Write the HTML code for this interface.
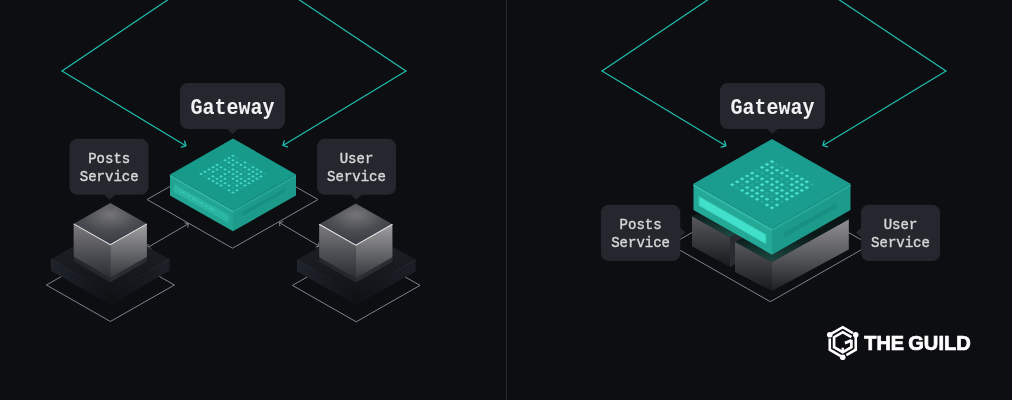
<!DOCTYPE html>
<html><head><meta charset="utf-8"><style>
html,body{margin:0;padding:0;background:#0d0e12;width:1012px;height:400px;overflow:hidden}
svg{display:block;will-change:transform}
</style></head><body>
<svg width="1012" height="400" viewBox="0 0 1012 400">
<defs>
 <linearGradient id="cubeL" x1="0" y1="0" x2="0" y2="1">
  <stop offset="0" stop-color="#7c7c7e"/><stop offset="0.55" stop-color="#4e4f54"/><stop offset="1" stop-color="#2b2d32"/>
 </linearGradient>
 <linearGradient id="cubeR" x1="0" y1="0" x2="0" y2="1">
  <stop offset="0" stop-color="#a0a0a1"/><stop offset="0.55" stop-color="#656669"/><stop offset="1" stop-color="#34363b"/>
 </linearGradient>
 <radialGradient id="cubeT" cx="0.5" cy="0.28" r="0.7">
  <stop offset="0" stop-color="#767678"/><stop offset="0.55" stop-color="#4a4c51"/><stop offset="1" stop-color="#383b44"/>
 </radialGradient>
 <linearGradient id="rim" x1="0" y1="0" x2="1" y2="0">
  <stop offset="0" stop-color="#272b33"/><stop offset="0.5" stop-color="#121418"/><stop offset="1" stop-color="#272b33"/>
 </linearGradient>
 <linearGradient id="platL" x1="0" y1="0" x2="1" y2="0">
  <stop offset="0" stop-color="#1f232b"/><stop offset="1" stop-color="#0f1115"/>
 </linearGradient>
 <linearGradient id="platR" x1="1" y1="0" x2="0" y2="0">
  <stop offset="0" stop-color="#1c1f26"/><stop offset="1" stop-color="#0f1115"/>
 </linearGradient>
 <linearGradient id="platT" x1="0" y1="0" x2="0" y2="1">
  <stop offset="0" stop-color="#1d2027"/><stop offset="0.5" stop-color="#1a1c22"/><stop offset="1" stop-color="#111317"/>
 </linearGradient>
 <linearGradient id="boxL" x1="0" y1="0" x2="0" y2="1">
  <stop offset="0" stop-color="#58595d"/><stop offset="0.5" stop-color="#38393d"/><stop offset="1" stop-color="#18191d"/>
 </linearGradient>
 <linearGradient id="boxR" x1="0" y1="0" x2="0" y2="1">
  <stop offset="0" stop-color="#909092"/><stop offset="0.5" stop-color="#5a5b5e"/><stop offset="1" stop-color="#1d1e22"/>
 </linearGradient>
 <linearGradient id="boxTop" x1="0" y1="0" x2="0" y2="1">
  <stop offset="0" stop-color="#081010"/><stop offset="0.6" stop-color="#0c1b1a"/><stop offset="1" stop-color="#1d4a45"/>
 </linearGradient>
 <linearGradient id="gwL" x1="0" y1="0" x2="1" y2="0">
  <stop offset="0" stop-color="#24a895"/><stop offset="1" stop-color="#1f9f8e"/>
 </linearGradient>
 <linearGradient id="gwR" x1="0" y1="0" x2="1" y2="0">
  <stop offset="0" stop-color="#1b9988"/><stop offset="1" stop-color="#1e9e8d"/>
 </linearGradient>
</defs>
<rect width="1012" height="400" fill="#0d0e12"/>
<rect x="506" y="0" width="1" height="400" fill="#27282d"/>
<polyline points="170.50,-2.00 62.00,71.00 185.75,145.75" fill="none" stroke="#1fbfb1" stroke-width="1.2"/>
<polyline points="184.60,141.20 185.90,145.80 181.20,147.20" fill="none" stroke="#1fbfb1" stroke-width="1.3" stroke-linecap="round" stroke-linejoin="round"/>
<polyline points="296.50,-2.00 406.00,71.00 283.00,145.40" fill="none" stroke="#1fbfb1" stroke-width="1.2"/>
<polyline points="284.20,140.90 282.90,145.50 287.60,146.90" fill="none" stroke="#1fbfb1" stroke-width="1.3" stroke-linecap="round" stroke-linejoin="round"/>
<polygon points="110.40,248.52 174.40,285.00 110.40,321.48 46.40,285.00" fill="none" stroke="#80828a" stroke-width="1"/>
<polygon points="356.20,249.03 420.00,285.40 356.20,321.77 292.40,285.40" fill="none" stroke="#80828a" stroke-width="1"/>
<polygon points="232.50,150.77 318.00,199.50 232.50,248.23 147.00,199.50" fill="none" stroke="#80828a" stroke-width="1"/>
<line x1="147.5" y1="247.6" x2="188.3" y2="223.8" stroke="#80828a" stroke-width="1"/>
<polyline points="184.60,222.90 188.30,223.80 187.80,227.60" fill="none" stroke="#80828a" stroke-width="1"/>
<line x1="319.2" y1="246.1" x2="279.4" y2="222.6" stroke="#80828a" stroke-width="1"/>
<polyline points="148.30,243.90 147.60,247.50 151.20,248.50" fill="none" stroke="#80828a" stroke-width="1"/>
<polyline points="318.50,242.50 319.20,246.10 315.60,247.10" fill="none" stroke="#80828a" stroke-width="1"/>
<polyline points="283.10,221.70 279.40,222.60 279.90,226.40" fill="none" stroke="#80828a" stroke-width="1"/>
<polygon points="50.90,259.30 110.20,293.10 110.20,304.60 50.90,270.80" fill="url(#platL)"/>
<polygon points="110.20,293.10 169.50,259.30 169.50,270.80 110.20,304.60" fill="url(#platR)"/>
<polygon points="110.20,225.50 169.50,259.30 110.20,293.10 50.90,259.30" fill="url(#platT)"/>
<polyline points="50.90,259.30 110.20,293.10 169.50,259.30" fill="none" stroke="url(#rim)" stroke-width="1"/>
<polygon points="110.30,234.00 150.30,256.80 110.30,279.60 70.30,256.80" fill="#15171c"/>
<polygon points="73.70,223.86 110.30,244.72 110.30,282.22 73.70,261.36" fill="#24272e"/>
<polygon points="110.30,244.72 146.90,223.86 146.90,261.36 110.30,282.22" fill="#2a2d34"/>
<polygon points="73.70,223.86 110.30,244.72 110.30,277.72 73.70,256.86" fill="url(#cubeL)"/>
<polygon points="110.30,244.72 146.90,223.86 146.90,256.86 110.30,277.72" fill="url(#cubeR)"/>
<polygon points="110.30,203.00 146.90,223.86 110.30,244.72 73.70,223.86" fill="url(#cubeT)"/>
<polyline points="73.70,223.86 110.30,244.72 146.90,223.86" fill="none" stroke="#e6e6e6" stroke-width="1.1"/>
<polygon points="297.00,259.80 356.30,293.60 356.30,305.10 297.00,271.30" fill="url(#platL)"/>
<polygon points="356.30,293.60 415.60,259.80 415.60,271.30 356.30,305.10" fill="url(#platR)"/>
<polygon points="356.30,226.00 415.60,259.80 356.30,293.60 297.00,259.80" fill="url(#platT)"/>
<polyline points="297.00,259.80 356.30,293.60 415.60,259.80" fill="none" stroke="url(#rim)" stroke-width="1"/>
<polygon points="355.80,234.40 395.80,257.20 355.80,280.00 315.80,257.20" fill="#15171c"/>
<polygon points="319.20,224.26 355.80,245.12 355.80,282.62 319.20,261.76" fill="#24272e"/>
<polygon points="355.80,245.12 392.40,224.26 392.40,261.76 355.80,282.62" fill="#2a2d34"/>
<polygon points="319.20,224.26 355.80,245.12 355.80,278.12 319.20,257.26" fill="url(#cubeL)"/>
<polygon points="355.80,245.12 392.40,224.26 392.40,257.26 355.80,278.12" fill="url(#cubeR)"/>
<polygon points="355.80,203.40 392.40,224.26 355.80,245.12 319.20,224.26" fill="url(#cubeT)"/>
<polyline points="319.20,224.26 355.80,245.12 392.40,224.26" fill="none" stroke="#e6e6e6" stroke-width="1.1"/>
<g transform="translate(233,138.5) scale(1.0)">
<polygon points="-63.00,35.91 0.00,71.82 0.00,92.82 -63.00,56.91" fill="#21a491"/>
<polygon points="0.00,71.82 63.00,35.91 63.00,56.91 0.00,92.82" fill="#1c9b8a"/>
<polygon points="0.00,0.00 63.00,35.91 0.00,71.82 -63.00,35.91" fill="#189a8b"/>
<polyline points="-63.00,37.11 0.00,73.02" fill="none" stroke="#34bead" stroke-width="1.6" stroke-opacity="0.8"/>
<polyline points="0.00,73.02 63.00,37.11" fill="none" stroke="#2bb09f" stroke-width="1.6" stroke-opacity="0.7"/>
<polygon points="-59.00,45.50 -4.50,76.56 -4.50,84.56 -59.00,53.50" fill="#2ab6a3"/>
<polyline points="-51.60,53.20 -17.70,72.50" fill="none" stroke="#43d6c2" stroke-width="1.4" stroke-dasharray="5 2 3 2 6 2" stroke-opacity="0.6"/>
<polygon points="9.60,73.50 51.90,49.40 51.90,53.40 9.60,77.50" fill="#179083"/>
<g transform="translate(0,0)"><polygon points="0.00,15.92 1.95,17.20 0.00,18.47 -1.95,17.20" fill="#40d6c5" fill-opacity="1.0"/>
<polygon points="3.99,18.23 5.94,19.50 3.99,20.77 2.04,19.50" fill="#40d6c5" fill-opacity="0.22"/>
<polygon points="7.98,20.52 9.93,21.80 7.98,23.07 6.03,21.80" fill="#40d6c5" fill-opacity="0.22"/>
<polygon points="11.97,22.82 13.92,24.10 11.97,25.37 10.02,24.10" fill="#40d6c5" fill-opacity="1.0"/>
<polygon points="15.96,25.12 17.91,26.40 15.96,27.67 14.01,26.40" fill="#40d6c5" fill-opacity="0.22"/>
<polygon points="19.95,27.43 21.90,28.70 19.95,29.97 18.00,28.70" fill="#40d6c5" fill-opacity="1.0"/>
<polygon points="23.94,29.73 25.89,31.00 23.94,32.27 21.99,31.00" fill="#40d6c5" fill-opacity="1.0"/>
<polygon points="27.93,32.02 29.88,33.30 27.93,34.57 25.98,33.30" fill="#40d6c5" fill-opacity="1.0"/>
<polygon points="31.92,34.32 33.87,35.60 31.92,36.87 29.97,35.60" fill="#40d6c5" fill-opacity="0.22"/>
<polygon points="-3.99,18.23 -2.04,19.50 -3.99,20.77 -5.94,19.50" fill="#40d6c5" fill-opacity="1.0"/>
<polygon points="0.00,20.52 1.95,21.80 0.00,23.07 -1.95,21.80" fill="#40d6c5" fill-opacity="1.0"/>
<polygon points="3.99,22.82 5.94,24.10 3.99,25.37 2.04,24.10" fill="#40d6c5" fill-opacity="1.0"/>
<polygon points="7.98,25.12 9.93,26.40 7.98,27.67 6.03,26.40" fill="#40d6c5" fill-opacity="1.0"/>
<polygon points="11.97,27.43 13.92,28.70 11.97,29.97 10.02,28.70" fill="#40d6c5" fill-opacity="1.0"/>
<polygon points="15.96,29.73 17.91,31.00 15.96,32.27 14.01,31.00" fill="#40d6c5" fill-opacity="1.0"/>
<polygon points="19.95,32.02 21.90,33.30 19.95,34.57 18.00,33.30" fill="#40d6c5" fill-opacity="1.0"/>
<polygon points="23.94,34.32 25.89,35.60 23.94,36.87 21.99,35.60" fill="#40d6c5" fill-opacity="1.0"/>
<polygon points="27.93,36.62 29.88,37.90 27.93,39.17 25.98,37.90" fill="#40d6c5" fill-opacity="1.0"/>
<polygon points="-7.98,20.52 -6.03,21.80 -7.98,23.07 -9.93,21.80" fill="#40d6c5" fill-opacity="1.0"/>
<polygon points="-3.99,22.82 -2.04,24.10 -3.99,25.37 -5.94,24.10" fill="#40d6c5" fill-opacity="1.0"/>
<polygon points="0.00,25.12 1.95,26.40 0.00,27.67 -1.95,26.40" fill="#40d6c5" fill-opacity="1.0"/>
<polygon points="3.99,27.43 5.94,28.70 3.99,29.97 2.04,28.70" fill="#40d6c5" fill-opacity="0.22"/>
<polygon points="7.98,29.73 9.93,31.00 7.98,32.27 6.03,31.00" fill="#40d6c5" fill-opacity="0.22"/>
<polygon points="11.97,32.02 13.92,33.30 11.97,34.57 10.02,33.30" fill="#40d6c5" fill-opacity="0.22"/>
<polygon points="15.96,34.32 17.91,35.60 15.96,36.87 14.01,35.60" fill="#40d6c5" fill-opacity="1.0"/>
<polygon points="19.95,36.62 21.90,37.90 19.95,39.17 18.00,37.90" fill="#40d6c5" fill-opacity="1.0"/>
<polygon points="23.94,38.93 25.89,40.20 23.94,41.48 21.99,40.20" fill="#40d6c5" fill-opacity="1.0"/>
<polygon points="-11.97,22.82 -10.02,24.10 -11.97,25.37 -13.92,24.10" fill="#40d6c5" fill-opacity="0.22"/>
<polygon points="-7.98,25.12 -6.03,26.40 -7.98,27.67 -9.93,26.40" fill="#40d6c5" fill-opacity="0.22"/>
<polygon points="-3.99,27.43 -2.04,28.70 -3.99,29.97 -5.94,28.70" fill="#40d6c5" fill-opacity="0.22"/>
<polygon points="0.00,29.73 1.95,31.00 0.00,32.27 -1.95,31.00" fill="#40d6c5" fill-opacity="1.0"/>
<polygon points="3.99,32.02 5.94,33.30 3.99,34.57 2.04,33.30" fill="#40d6c5" fill-opacity="1.0"/>
<polygon points="7.98,34.32 9.93,35.60 7.98,36.87 6.03,35.60" fill="#40d6c5" fill-opacity="1.0"/>
<polygon points="11.97,36.62 13.92,37.90 11.97,39.17 10.02,37.90" fill="#40d6c5" fill-opacity="0.22"/>
<polygon points="15.96,38.93 17.91,40.20 15.96,41.48 14.01,40.20" fill="#40d6c5" fill-opacity="1.0"/>
<polygon points="19.95,41.23 21.90,42.50 19.95,43.77 18.00,42.50" fill="#40d6c5" fill-opacity="1.0"/>
<polygon points="-15.96,25.12 -14.01,26.40 -15.96,27.67 -17.91,26.40" fill="#40d6c5" fill-opacity="1.0"/>
<polygon points="-11.97,27.43 -10.02,28.70 -11.97,29.97 -13.92,28.70" fill="#40d6c5" fill-opacity="1.0"/>
<polygon points="-7.98,29.73 -6.03,31.00 -7.98,32.27 -9.93,31.00" fill="#40d6c5" fill-opacity="1.0"/>
<polygon points="-3.99,32.02 -2.04,33.30 -3.99,34.57 -5.94,33.30" fill="#40d6c5" fill-opacity="1.0"/>
<polygon points="0.00,34.32 1.95,35.60 0.00,36.87 -1.95,35.60" fill="#40d6c5" fill-opacity="1.0"/>
<polygon points="3.99,36.62 5.94,37.90 3.99,39.17 2.04,37.90" fill="#40d6c5" fill-opacity="1.0"/>
<polygon points="7.98,38.93 9.93,40.20 7.98,41.48 6.03,40.20" fill="#40d6c5" fill-opacity="1.0"/>
<polygon points="11.97,41.23 13.92,42.50 11.97,43.77 10.02,42.50" fill="#40d6c5" fill-opacity="1.0"/>
<polygon points="15.96,43.52 17.91,44.80 15.96,46.07 14.01,44.80" fill="#40d6c5" fill-opacity="1.0"/>
<polygon points="-19.95,27.43 -18.00,28.70 -19.95,29.97 -21.90,28.70" fill="#40d6c5" fill-opacity="1.0"/>
<polygon points="-15.96,29.73 -14.01,31.00 -15.96,32.27 -17.91,31.00" fill="#40d6c5" fill-opacity="1.0"/>
<polygon points="-11.97,32.02 -10.02,33.30 -11.97,34.57 -13.92,33.30" fill="#40d6c5" fill-opacity="0.22"/>
<polygon points="-7.98,34.32 -6.03,35.60 -7.98,36.87 -9.93,35.60" fill="#40d6c5" fill-opacity="1.0"/>
<polygon points="-3.99,36.62 -2.04,37.90 -3.99,39.17 -5.94,37.90" fill="#40d6c5" fill-opacity="0.22"/>
<polygon points="0.00,38.93 1.95,40.20 0.00,41.48 -1.95,40.20" fill="#40d6c5" fill-opacity="1.0"/>
<polygon points="3.99,41.23 5.94,42.50 3.99,43.77 2.04,42.50" fill="#40d6c5" fill-opacity="1.0"/>
<polygon points="7.98,43.52 9.93,44.80 7.98,46.07 6.03,44.80" fill="#40d6c5" fill-opacity="1.0"/>
<polygon points="11.97,45.82 13.92,47.10 11.97,48.37 10.02,47.10" fill="#40d6c5" fill-opacity="1.0"/>
<polygon points="-23.94,29.73 -21.99,31.00 -23.94,32.27 -25.89,31.00" fill="#40d6c5" fill-opacity="1.0"/>
<polygon points="-19.95,32.02 -18.00,33.30 -19.95,34.57 -21.90,33.30" fill="#40d6c5" fill-opacity="1.0"/>
<polygon points="-15.96,34.32 -14.01,35.60 -15.96,36.87 -17.91,35.60" fill="#40d6c5" fill-opacity="0.22"/>
<polygon points="-11.97,36.62 -10.02,37.90 -11.97,39.17 -13.92,37.90" fill="#40d6c5" fill-opacity="1.0"/>
<polygon points="-7.98,38.93 -6.03,40.20 -7.98,41.48 -9.93,40.20" fill="#40d6c5" fill-opacity="1.0"/>
<polygon points="-3.99,41.23 -2.04,42.50 -3.99,43.77 -5.94,42.50" fill="#40d6c5" fill-opacity="0.22"/>
<polygon points="0.00,43.52 1.95,44.80 0.00,46.07 -1.95,44.80" fill="#40d6c5" fill-opacity="0.22"/>
<polygon points="3.99,45.82 5.94,47.10 3.99,48.37 2.04,47.10" fill="#40d6c5" fill-opacity="1.0"/>
<polygon points="7.98,48.12 9.93,49.40 7.98,50.67 6.03,49.40" fill="#40d6c5" fill-opacity="0.22"/>
<polygon points="-27.93,32.02 -25.98,33.30 -27.93,34.57 -29.88,33.30" fill="#40d6c5" fill-opacity="1.0"/>
<polygon points="-23.94,34.32 -21.99,35.60 -23.94,36.87 -25.89,35.60" fill="#40d6c5" fill-opacity="0.22"/>
<polygon points="-19.95,36.62 -18.00,37.90 -19.95,39.17 -21.90,37.90" fill="#40d6c5" fill-opacity="1.0"/>
<polygon points="-15.96,38.93 -14.01,40.20 -15.96,41.48 -17.91,40.20" fill="#40d6c5" fill-opacity="1.0"/>
<polygon points="-11.97,41.23 -10.02,42.50 -11.97,43.77 -13.92,42.50" fill="#40d6c5" fill-opacity="1.0"/>
<polygon points="-7.98,43.52 -6.03,44.80 -7.98,46.07 -9.93,44.80" fill="#40d6c5" fill-opacity="1.0"/>
<polygon points="-3.99,45.82 -2.04,47.10 -3.99,48.37 -5.94,47.10" fill="#40d6c5" fill-opacity="1.0"/>
<polygon points="0.00,48.12 1.95,49.40 0.00,50.67 -1.95,49.40" fill="#40d6c5" fill-opacity="0.22"/>
<polygon points="3.99,50.43 5.94,51.70 3.99,52.98 2.04,51.70" fill="#40d6c5" fill-opacity="1.0"/>
<polygon points="-31.92,34.32 -29.97,35.60 -31.92,36.87 -33.87,35.60" fill="#40d6c5" fill-opacity="1.0"/>
<polygon points="-27.93,36.62 -25.98,37.90 -27.93,39.17 -29.88,37.90" fill="#40d6c5" fill-opacity="0.22"/>
<polygon points="-23.94,38.93 -21.99,40.20 -23.94,41.48 -25.89,40.20" fill="#40d6c5" fill-opacity="1.0"/>
<polygon points="-19.95,41.23 -18.00,42.50 -19.95,43.77 -21.90,42.50" fill="#40d6c5" fill-opacity="1.0"/>
<polygon points="-15.96,43.52 -14.01,44.80 -15.96,46.07 -17.91,44.80" fill="#40d6c5" fill-opacity="1.0"/>
<polygon points="-11.97,45.82 -10.02,47.10 -11.97,48.37 -13.92,47.10" fill="#40d6c5" fill-opacity="1.0"/>
<polygon points="-7.98,48.12 -6.03,49.40 -7.98,50.67 -9.93,49.40" fill="#40d6c5" fill-opacity="0.22"/>
<polygon points="-3.99,50.43 -2.04,51.70 -3.99,52.98 -5.94,51.70" fill="#40d6c5" fill-opacity="1.0"/>
<polygon points="0.00,52.73 1.95,54.00 0.00,55.27 -1.95,54.00" fill="#40d6c5" fill-opacity="1.0"/></g>
</g>
<rect x="180" y="83" width="105" height="46" rx="8" fill="#25272e"/>
<polygon points="226.50,128.50 238.50,128.50 232.50,134.00" fill="#25272e"/>
<rect x="69.5" y="138.8" width="79" height="56" rx="8" fill="#25272e"/>
<polygon points="103.70,194.30 115.70,194.30 109.70,199.80" fill="#25272e"/>
<rect x="317" y="138.8" width="79" height="56" rx="8" fill="#25272e"/>
<polygon points="350.20,194.30 362.20,194.30 356.20,199.80" fill="#25272e"/>
<polyline points="710.50,-2.00 602.00,71.00 725.75,145.75" fill="none" stroke="#1fbfb1" stroke-width="1.2"/>
<polyline points="724.60,141.20 725.90,145.80 721.20,147.20" fill="none" stroke="#1fbfb1" stroke-width="1.3" stroke-linecap="round" stroke-linejoin="round"/>
<polyline points="836.50,-2.00 946.00,71.00 823.00,145.40" fill="none" stroke="#1fbfb1" stroke-width="1.2"/>
<polyline points="824.20,140.90 822.90,145.50 827.60,146.90" fill="none" stroke="#1fbfb1" stroke-width="1.3" stroke-linecap="round" stroke-linejoin="round"/>
<polygon points="770.30,187.91 870.10,244.80 770.30,301.69 670.50,244.80" fill="none" stroke="#80828a" stroke-width="1"/>
<polygon points="692.00,216.25 730.00,237.20 730.00,267.00 692.00,246.25" fill="url(#boxL)"/>
<polygon points="730.00,237.20 760.00,220.70 760.00,250.50 730.00,267.00" fill="#2a2b30"/>
<polygon points="692.00,216.25 730.00,237.20 800.00,198.00 762.00,177.00" fill="url(#boxTop)"/>
<polygon points="735.00,242.00 772.00,262.00 772.00,291.00 735.00,272.00" fill="url(#boxL)"/>
<polygon points="772.00,262.00 848.80,219.30 848.80,249.50 772.00,291.00" fill="url(#boxR)"/>
<polygon points="735.00,242.00 772.00,262.00 848.80,219.30 811.80,199.30" fill="url(#boxTop)"/>
<g transform="translate(772,139) scale(1.246)">
<polygon points="-63.00,35.91 0.00,71.82 0.00,92.82 -63.00,56.91" fill="#25a997"/>
<polygon points="0.00,71.82 63.00,35.91 63.00,56.91 0.00,92.82" fill="#1c9b8a"/>
<polygon points="0.00,0.00 63.00,35.91 0.00,71.82 -63.00,35.91" fill="#1a9d8e"/>
<polyline points="-63.00,37.11 0.00,73.02" fill="none" stroke="#34bead" stroke-width="1.6" stroke-opacity="0.8"/>
<polyline points="0.00,73.02 63.00,37.11" fill="none" stroke="#2bb09f" stroke-width="1.6" stroke-opacity="0.7"/>
<polygon points="-59.00,45.50 -4.50,76.56 -4.50,84.56 -59.00,53.50" fill="#33c6b2"/>
<polygon points="-58.10,46.70 -5.40,76.77 -5.40,83.56 -58.10,53.20" fill="#42e0cb"/>
<polygon points="9.60,75.30 51.90,51.20 51.90,55.20 9.60,79.30" fill="#179083"/>
<g transform="translate(0,0)"><polygon points="0.00,16.83 1.95,18.10 0.00,19.38 -1.95,18.10" fill="#46ddcc" fill-opacity="1.0"/>
<polygon points="3.99,19.15 5.94,20.42 3.99,21.70 2.04,20.42" fill="#46ddcc" fill-opacity="0.22"/>
<polygon points="7.98,21.47 9.93,22.74 7.98,24.02 6.03,22.74" fill="#46ddcc" fill-opacity="0.22"/>
<polygon points="11.97,23.79 13.92,25.06 11.97,26.34 10.02,25.06" fill="#46ddcc" fill-opacity="1.0"/>
<polygon points="15.96,26.11 17.91,27.38 15.96,28.66 14.01,27.38" fill="#46ddcc" fill-opacity="0.22"/>
<polygon points="19.95,28.43 21.90,29.70 19.95,30.98 18.00,29.70" fill="#46ddcc" fill-opacity="1.0"/>
<polygon points="23.94,30.74 25.89,32.02 23.94,33.29 21.99,32.02" fill="#46ddcc" fill-opacity="1.0"/>
<polygon points="27.93,33.07 29.88,34.34 27.93,35.62 25.98,34.34" fill="#46ddcc" fill-opacity="1.0"/>
<polygon points="31.92,35.38 33.87,36.66 31.92,37.93 29.97,36.66" fill="#46ddcc" fill-opacity="0.22"/>
<polygon points="-3.99,19.15 -2.04,20.42 -3.99,21.70 -5.94,20.42" fill="#46ddcc" fill-opacity="1.0"/>
<polygon points="0.00,21.47 1.95,22.74 0.00,24.02 -1.95,22.74" fill="#46ddcc" fill-opacity="1.0"/>
<polygon points="3.99,23.79 5.94,25.06 3.99,26.34 2.04,25.06" fill="#46ddcc" fill-opacity="1.0"/>
<polygon points="7.98,26.11 9.93,27.38 7.98,28.66 6.03,27.38" fill="#46ddcc" fill-opacity="1.0"/>
<polygon points="11.97,28.43 13.92,29.70 11.97,30.98 10.02,29.70" fill="#46ddcc" fill-opacity="1.0"/>
<polygon points="15.96,30.74 17.91,32.02 15.96,33.29 14.01,32.02" fill="#46ddcc" fill-opacity="1.0"/>
<polygon points="19.95,33.07 21.90,34.34 19.95,35.62 18.00,34.34" fill="#46ddcc" fill-opacity="1.0"/>
<polygon points="23.94,35.38 25.89,36.66 23.94,37.93 21.99,36.66" fill="#46ddcc" fill-opacity="1.0"/>
<polygon points="27.93,37.71 29.88,38.98 27.93,40.26 25.98,38.98" fill="#46ddcc" fill-opacity="1.0"/>
<polygon points="-7.98,21.47 -6.03,22.74 -7.98,24.02 -9.93,22.74" fill="#46ddcc" fill-opacity="1.0"/>
<polygon points="-3.99,23.79 -2.04,25.06 -3.99,26.34 -5.94,25.06" fill="#46ddcc" fill-opacity="1.0"/>
<polygon points="0.00,26.11 1.95,27.38 0.00,28.66 -1.95,27.38" fill="#46ddcc" fill-opacity="1.0"/>
<polygon points="3.99,28.43 5.94,29.70 3.99,30.98 2.04,29.70" fill="#46ddcc" fill-opacity="0.22"/>
<polygon points="7.98,30.74 9.93,32.02 7.98,33.29 6.03,32.02" fill="#46ddcc" fill-opacity="0.22"/>
<polygon points="11.97,33.07 13.92,34.34 11.97,35.62 10.02,34.34" fill="#46ddcc" fill-opacity="0.22"/>
<polygon points="15.96,35.38 17.91,36.66 15.96,37.93 14.01,36.66" fill="#46ddcc" fill-opacity="1.0"/>
<polygon points="19.95,37.71 21.90,38.98 19.95,40.26 18.00,38.98" fill="#46ddcc" fill-opacity="1.0"/>
<polygon points="23.94,40.02 25.89,41.30 23.94,42.57 21.99,41.30" fill="#46ddcc" fill-opacity="1.0"/>
<polygon points="-11.97,23.79 -10.02,25.06 -11.97,26.34 -13.92,25.06" fill="#46ddcc" fill-opacity="0.22"/>
<polygon points="-7.98,26.11 -6.03,27.38 -7.98,28.66 -9.93,27.38" fill="#46ddcc" fill-opacity="0.22"/>
<polygon points="-3.99,28.43 -2.04,29.70 -3.99,30.98 -5.94,29.70" fill="#46ddcc" fill-opacity="0.22"/>
<polygon points="0.00,30.74 1.95,32.02 0.00,33.29 -1.95,32.02" fill="#46ddcc" fill-opacity="1.0"/>
<polygon points="3.99,33.07 5.94,34.34 3.99,35.62 2.04,34.34" fill="#46ddcc" fill-opacity="1.0"/>
<polygon points="7.98,35.38 9.93,36.66 7.98,37.93 6.03,36.66" fill="#46ddcc" fill-opacity="1.0"/>
<polygon points="11.97,37.71 13.92,38.98 11.97,40.26 10.02,38.98" fill="#46ddcc" fill-opacity="0.22"/>
<polygon points="15.96,40.02 17.91,41.30 15.96,42.57 14.01,41.30" fill="#46ddcc" fill-opacity="1.0"/>
<polygon points="19.95,42.35 21.90,43.62 19.95,44.90 18.00,43.62" fill="#46ddcc" fill-opacity="1.0"/>
<polygon points="-15.96,26.11 -14.01,27.38 -15.96,28.66 -17.91,27.38" fill="#46ddcc" fill-opacity="1.0"/>
<polygon points="-11.97,28.43 -10.02,29.70 -11.97,30.98 -13.92,29.70" fill="#46ddcc" fill-opacity="1.0"/>
<polygon points="-7.98,30.74 -6.03,32.02 -7.98,33.29 -9.93,32.02" fill="#46ddcc" fill-opacity="1.0"/>
<polygon points="-3.99,33.07 -2.04,34.34 -3.99,35.62 -5.94,34.34" fill="#46ddcc" fill-opacity="1.0"/>
<polygon points="0.00,35.38 1.95,36.66 0.00,37.93 -1.95,36.66" fill="#46ddcc" fill-opacity="1.0"/>
<polygon points="3.99,37.71 5.94,38.98 3.99,40.26 2.04,38.98" fill="#46ddcc" fill-opacity="1.0"/>
<polygon points="7.98,40.02 9.93,41.30 7.98,42.57 6.03,41.30" fill="#46ddcc" fill-opacity="1.0"/>
<polygon points="11.97,42.35 13.92,43.62 11.97,44.90 10.02,43.62" fill="#46ddcc" fill-opacity="1.0"/>
<polygon points="15.96,44.66 17.91,45.94 15.96,47.21 14.01,45.94" fill="#46ddcc" fill-opacity="1.0"/>
<polygon points="-19.95,28.43 -18.00,29.70 -19.95,30.98 -21.90,29.70" fill="#46ddcc" fill-opacity="1.0"/>
<polygon points="-15.96,30.74 -14.01,32.02 -15.96,33.29 -17.91,32.02" fill="#46ddcc" fill-opacity="1.0"/>
<polygon points="-11.97,33.07 -10.02,34.34 -11.97,35.62 -13.92,34.34" fill="#46ddcc" fill-opacity="0.22"/>
<polygon points="-7.98,35.38 -6.03,36.66 -7.98,37.93 -9.93,36.66" fill="#46ddcc" fill-opacity="1.0"/>
<polygon points="-3.99,37.71 -2.04,38.98 -3.99,40.26 -5.94,38.98" fill="#46ddcc" fill-opacity="0.22"/>
<polygon points="0.00,40.02 1.95,41.30 0.00,42.57 -1.95,41.30" fill="#46ddcc" fill-opacity="1.0"/>
<polygon points="3.99,42.35 5.94,43.62 3.99,44.90 2.04,43.62" fill="#46ddcc" fill-opacity="1.0"/>
<polygon points="7.98,44.66 9.93,45.94 7.98,47.21 6.03,45.94" fill="#46ddcc" fill-opacity="1.0"/>
<polygon points="11.97,46.98 13.92,48.26 11.97,49.53 10.02,48.26" fill="#46ddcc" fill-opacity="1.0"/>
<polygon points="-23.94,30.74 -21.99,32.02 -23.94,33.29 -25.89,32.02" fill="#46ddcc" fill-opacity="1.0"/>
<polygon points="-19.95,33.07 -18.00,34.34 -19.95,35.62 -21.90,34.34" fill="#46ddcc" fill-opacity="1.0"/>
<polygon points="-15.96,35.38 -14.01,36.66 -15.96,37.93 -17.91,36.66" fill="#46ddcc" fill-opacity="0.22"/>
<polygon points="-11.97,37.71 -10.02,38.98 -11.97,40.26 -13.92,38.98" fill="#46ddcc" fill-opacity="1.0"/>
<polygon points="-7.98,40.02 -6.03,41.30 -7.98,42.57 -9.93,41.30" fill="#46ddcc" fill-opacity="1.0"/>
<polygon points="-3.99,42.35 -2.04,43.62 -3.99,44.90 -5.94,43.62" fill="#46ddcc" fill-opacity="0.22"/>
<polygon points="0.00,44.66 1.95,45.94 0.00,47.21 -1.95,45.94" fill="#46ddcc" fill-opacity="0.22"/>
<polygon points="3.99,46.98 5.94,48.26 3.99,49.53 2.04,48.26" fill="#46ddcc" fill-opacity="1.0"/>
<polygon points="7.98,49.30 9.93,50.58 7.98,51.85 6.03,50.58" fill="#46ddcc" fill-opacity="0.22"/>
<polygon points="-27.93,33.07 -25.98,34.34 -27.93,35.62 -29.88,34.34" fill="#46ddcc" fill-opacity="1.0"/>
<polygon points="-23.94,35.38 -21.99,36.66 -23.94,37.93 -25.89,36.66" fill="#46ddcc" fill-opacity="0.22"/>
<polygon points="-19.95,37.71 -18.00,38.98 -19.95,40.26 -21.90,38.98" fill="#46ddcc" fill-opacity="1.0"/>
<polygon points="-15.96,40.02 -14.01,41.30 -15.96,42.57 -17.91,41.30" fill="#46ddcc" fill-opacity="1.0"/>
<polygon points="-11.97,42.35 -10.02,43.62 -11.97,44.90 -13.92,43.62" fill="#46ddcc" fill-opacity="1.0"/>
<polygon points="-7.98,44.66 -6.03,45.94 -7.98,47.21 -9.93,45.94" fill="#46ddcc" fill-opacity="1.0"/>
<polygon points="-3.99,46.98 -2.04,48.26 -3.99,49.53 -5.94,48.26" fill="#46ddcc" fill-opacity="1.0"/>
<polygon points="0.00,49.30 1.95,50.58 0.00,51.85 -1.95,50.58" fill="#46ddcc" fill-opacity="0.22"/>
<polygon points="3.99,51.62 5.94,52.90 3.99,54.17 2.04,52.90" fill="#46ddcc" fill-opacity="1.0"/>
<polygon points="-31.92,35.38 -29.97,36.66 -31.92,37.93 -33.87,36.66" fill="#46ddcc" fill-opacity="1.0"/>
<polygon points="-27.93,37.71 -25.98,38.98 -27.93,40.26 -29.88,38.98" fill="#46ddcc" fill-opacity="0.22"/>
<polygon points="-23.94,40.02 -21.99,41.30 -23.94,42.57 -25.89,41.30" fill="#46ddcc" fill-opacity="1.0"/>
<polygon points="-19.95,42.35 -18.00,43.62 -19.95,44.90 -21.90,43.62" fill="#46ddcc" fill-opacity="1.0"/>
<polygon points="-15.96,44.66 -14.01,45.94 -15.96,47.21 -17.91,45.94" fill="#46ddcc" fill-opacity="1.0"/>
<polygon points="-11.97,46.98 -10.02,48.26 -11.97,49.53 -13.92,48.26" fill="#46ddcc" fill-opacity="1.0"/>
<polygon points="-7.98,49.30 -6.03,50.58 -7.98,51.85 -9.93,50.58" fill="#46ddcc" fill-opacity="0.22"/>
<polygon points="-3.99,51.62 -2.04,52.90 -3.99,54.17 -5.94,52.90" fill="#46ddcc" fill-opacity="1.0"/>
<polygon points="0.00,53.95 1.95,55.22 0.00,56.49 -1.95,55.22" fill="#46ddcc" fill-opacity="1.0"/></g>
</g>
<rect x="720" y="83" width="105" height="46" rx="8" fill="#25272e"/>
<polygon points="766.50,128.50 778.50,128.50 772.50,134.00" fill="#25272e"/>
<rect x="601" y="204.7" width="79.3" height="56.3" rx="8" fill="#25272e"/>
<polygon points="679.80,227.50 685.30,232.50 679.80,237.50" fill="#25272e"/>
<rect x="861" y="204.7" width="79" height="56.3" rx="8" fill="#25272e"/>
<polygon points="861.50,227.50 856.00,232.50 861.50,237.50" fill="#25272e"/>
<text transform="translate(232.5,114) scale(1,1.1)" x="0" y="0" font-family="&quot;Liberation Mono&quot;, monospace" font-size="20" font-weight="bold" fill="#f2f2f2" text-anchor="middle" >Gateway</text>
<text transform="translate(109.2,162.8) scale(1,1.0)" x="0" y="0" font-family="&quot;Liberation Mono&quot;, monospace" font-size="14" font-weight="normal" fill="#d6d6d6" text-anchor="middle" stroke="#d6d6d6" stroke-width="0.4">Posts</text>
<text transform="translate(109.2,181) scale(1,1.0)" x="0" y="0" font-family="&quot;Liberation Mono&quot;, monospace" font-size="14" font-weight="normal" fill="#d6d6d6" text-anchor="middle" stroke="#d6d6d6" stroke-width="0.4">Service</text>
<text transform="translate(356.5,162.8) scale(1,1.0)" x="0" y="0" font-family="&quot;Liberation Mono&quot;, monospace" font-size="14" font-weight="normal" fill="#d6d6d6" text-anchor="middle" stroke="#d6d6d6" stroke-width="0.4">User</text>
<text transform="translate(356.5,181) scale(1,1.0)" x="0" y="0" font-family="&quot;Liberation Mono&quot;, monospace" font-size="14" font-weight="normal" fill="#d6d6d6" text-anchor="middle" stroke="#d6d6d6" stroke-width="0.4">Service</text>
<text transform="translate(772.5,114) scale(1,1.1)" x="0" y="0" font-family="&quot;Liberation Mono&quot;, monospace" font-size="20" font-weight="bold" fill="#f2f2f2" text-anchor="middle" >Gateway</text>
<text transform="translate(640.6,229.3) scale(1,1.0)" x="0" y="0" font-family="&quot;Liberation Mono&quot;, monospace" font-size="14" font-weight="normal" fill="#d6d6d6" text-anchor="middle" stroke="#d6d6d6" stroke-width="0.4">Posts</text>
<text transform="translate(640.6,246.5) scale(1,1.0)" x="0" y="0" font-family="&quot;Liberation Mono&quot;, monospace" font-size="14" font-weight="normal" fill="#d6d6d6" text-anchor="middle" stroke="#d6d6d6" stroke-width="0.4">Service</text>
<text transform="translate(900.5,229.3) scale(1,1.0)" x="0" y="0" font-family="&quot;Liberation Mono&quot;, monospace" font-size="14" font-weight="normal" fill="#d6d6d6" text-anchor="middle" stroke="#d6d6d6" stroke-width="0.4">User</text>
<text transform="translate(900.5,246.5) scale(1,1.0)" x="0" y="0" font-family="&quot;Liberation Mono&quot;, monospace" font-size="14" font-weight="normal" fill="#d6d6d6" text-anchor="middle" stroke="#d6d6d6" stroke-width="0.4">Service</text>
<polyline points="829.76,334.70 842.75,327.20 852.88,333.05" fill="none" stroke="#fff" stroke-width="2.6"/>
<polyline points="855.74,336.50 855.74,349.70 846.39,355.10" fill="none" stroke="#fff" stroke-width="2.6"/>
<polyline points="829.76,338.45 829.76,349.70 840.80,356.07" fill="none" stroke="#fff" stroke-width="2.6"/>
<circle cx="829.76" cy="334.70" r="2.8" fill="#fff"/>
<circle cx="855.74" cy="334.70" r="2.8" fill="#fff"/>
<circle cx="842.75" cy="357.20" r="2.8" fill="#fff"/>
<polyline points="851.41,337.20 842.75,332.20 834.09,337.20 834.09,347.20 842.75,352.20 851.41,347.20 851.41,339.70" fill="none" stroke="#fff" stroke-width="2.7" stroke-linejoin="miter"/>
<polyline points="844.95,343.10 851.41,340.40" fill="none" stroke="#fff" stroke-width="2.9"/>
<line x1="842.75" y1="347.70" x2="842.75" y2="352.20" stroke="#fff" stroke-width="2.4"/>
<text transform="translate(864.3,350) scale(1,1.0)" x="0" y="0" font-family="&quot;Liberation Sans&quot;, sans-serif" font-size="19.5" font-weight="bold" fill="#ffffff" text-anchor="start" textLength="39.6" lengthAdjust="spacingAndGlyphs" stroke="#fff" stroke-width="0.7">THE</text>
<text transform="translate(908.2,350) scale(1,1.0)" x="0" y="0" font-family="&quot;Liberation Sans&quot;, sans-serif" font-size="19.5" font-weight="bold" fill="#ffffff" text-anchor="start" textLength="62.6" lengthAdjust="spacingAndGlyphs" stroke="#fff" stroke-width="0.7">GUILD</text>
</svg>
</body></html>
